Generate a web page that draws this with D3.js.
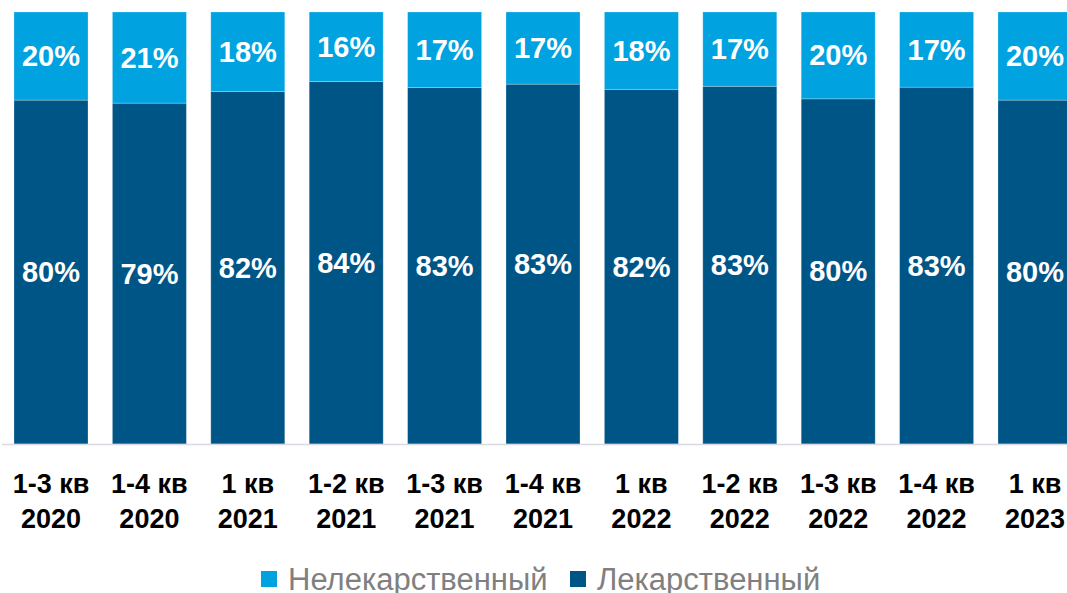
<!DOCTYPE html>
<html>
<head>
<meta charset="utf-8">
<script src="https://cdn.jsdelivr.net/npm/d3@7"></script>
<style>
  body { margin: 0; background: #fff; overflow: hidden; }
  svg { display: block; font-family: "Liberation Sans", Arial, sans-serif; }
</style>
</head>
<body>
<svg></svg>
<script>
const width = 1067;
const height = 593;

// data
const periods = [
  ["1-3 кв", "2020"], ["1-4 кв", "2020"], ["1 кв", "2021"], ["1-2 кв", "2021"],
  ["1-3 кв", "2021"], ["1-4 кв", "2021"], ["1 кв", "2022"], ["1-2 кв", "2022"],
  ["1-3 кв", "2022"], ["1-4 кв", "2022"], ["1 кв", "2023"]
];
const drugShare = [79.6, 78.9, 81.6, 83.9, 82.5, 83.3, 82.1, 82.8, 79.9, 82.6, 79.6];
const nonDrugShare = [20.4, 21.1, 18.4, 16.1, 17.5, 16.7, 17.9, 17.2, 20.1, 17.4, 20.4];
const drugLabels = ["80%", "79%", "82%", "84%", "83%", "83%", "82%", "83%", "80%", "83%", "80%"];
const nonDrugLabels = ["20%", "21%", "18%", "16%", "17%", "17%", "18%", "17%", "20%", "17%", "20%"];

const seriesNames = ["Нелекарственный", "Лекарственный"];
const colors = { drug: "#005587", nonDrug: "#00A3E0" };

const rows = periods.map((p, i) => ({
  key: p.join(" "),
  lines: p,
  drug: drugShare[i],
  nonDrug: nonDrugShare[i],
  drugLabel: drugLabels[i],
  nonDrugLabel: nonDrugLabels[i]
}));

const svg = d3.select("svg")
  .attr("width", width)
  .attr("height", height);

const x = d3.scaleBand()
  .domain(rows.map(d => d.key))
  .range([1.8, 1084.2])
  .paddingInner(0.248)
  .paddingOuter(0.124);

const y = d3.scaleLinear()
  .domain([0, 100])
  .range([444, 12]);

const stack = d3.stack().keys(["drug", "nonDrug"]);
const layers = stack(rows);

const layer = svg.selectAll("g.layer")
  .data(layers)
  .enter()
  .append("g")
  .attr("class", "layer")
  .attr("fill", d => colors[d.key]);

layer.selectAll("rect")
  .data(d => d)
  .enter()
  .append("rect")
  .attr("x", d => x(d.data.key))
  .attr("y", d => y(d[1]))
  .attr("width", x.bandwidth())
  .attr("height", d => y(d[0]) - y(d[1]))
  .attr("stroke", "rgba(255,255,255,0.3)")
  .attr("stroke-width", 0.8);

// value labels
layer.selectAll("text")
  .data(d => d.map(s => ({ s, key: d.key })))
  .enter()
  .append("text")
  .attr("x", d => x(d.s.data.key) + x.bandwidth() / 2)
  .attr("y", d => (y(d.s[0]) + y(d.s[1])) / 2 + 10)
  .attr("text-anchor", "middle")
  .attr("fill", "#fff")
  .attr("font-size", 29)
  .attr("font-weight", "bold")
  .text(d => d.key === "drug" ? d.s.data.drugLabel : d.s.data.nonDrugLabel);

// baseline
svg.append("line")
  .attr("x1", 2)
  .attr("x2", width)
  .attr("y1", y(0) + 0.5)
  .attr("y2", y(0) + 0.5)
  .attr("stroke", "#d9d9e3")
  .attr("stroke-width", 1.5);

// category labels
const cat = svg.selectAll("text.cat")
  .data(rows)
  .enter()
  .append("text")
  .attr("class", "cat")
  .attr("text-anchor", "middle")
  .attr("font-size", 27)
  .attr("font-weight", "bold")
  .attr("fill", "#000");

cat.selectAll("tspan")
  .data(d => d.lines.map(l => ({ l, key: d.key })))
  .enter()
  .append("tspan")
  .attr("x", d => x(d.key) + x.bandwidth() / 2)
  .attr("y", (d, i) => 493 + i * 35)
  .text(d => d.l);

// legend
const legendItems = [
  { name: seriesNames[0], color: colors.nonDrug, x: 261 },
  { name: seriesNames[1], color: colors.drug, x: 570 }
];

const legend = svg.selectAll("g.legend")
  .data(legendItems)
  .enter()
  .append("g")
  .attr("class", "legend")
  .attr("transform", d => `translate(${d.x},0)`);

legend.append("rect")
  .attr("x", 0)
  .attr("y", 571)
  .attr("width", 16)
  .attr("height", 16)
  .attr("fill", d => d.color);

legend.append("text")
  .attr("x", 27)
  .attr("y", 590)
  .attr("font-size", 31)
  .attr("fill", "#808080")
  .text(d => d.name);
</script>
</body>
</html>
